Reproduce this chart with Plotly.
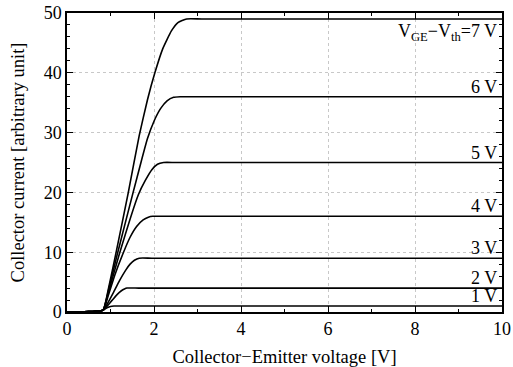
import plotly.graph_objects as go

# Gate overdrive levels (VGE - Vth) and curve points
levels = [7, 6, 5, 4, 3, 2, 1]
labels = ["V<sub>GE</sub>−V<sub>th</sub>=7 V", "6 V", "5 V", "4 V", "3 V", "2 V", "1 V"]

base_x = [0.0, 0.3, 0.5, 0.65, 0.83]
base_y = [0.0, 0.02, 0.06, 0.13, 0.3]

vce_7 = [0.95, 1.13, 1.41, 1.66, 1.85, 2.02, 2.2, 2.4, 2.55, 2.75, 3.1, 10.0]
ic_7 = [3.8, 10.0, 20.0, 29.5, 35.5, 40.0, 44.0, 47.0, 48.4, 49.0, 49.0, 49.0]

vce_6 = [0.95, 1.15, 1.52, 1.7, 1.85, 2.0, 2.15, 2.3, 2.45, 2.6, 2.9, 10.0]
ic_6 = [3.5, 9.5, 20.0, 25.0, 29.0, 31.9, 34.0, 35.3, 35.9, 36.0, 36.0, 36.0]

vce_5 = [0.95, 1.2, 1.64, 1.8, 1.95, 2.08, 2.22, 2.5, 10.0]
ic_5 = [3.2, 9.6, 19.6, 22.0, 23.8, 24.7, 25.0, 25.0, 25.0]

vce_4 = [0.95, 1.1, 1.3, 1.45, 1.6, 1.75, 1.87, 1.97, 2.25, 10.0]
ic_4 = [2.8, 6.2, 10.0, 12.5, 14.3, 15.4, 15.85, 16.0, 16.0, 16.0]

vce_3 = [1.07, 1.22, 1.35, 1.45, 1.55, 1.66, 1.95, 10.0]
ic_3 = [3.3, 5.4, 7.0, 8.0, 8.65, 9.0, 9.0, 9.0]

vce_2 = [1.03, 1.15, 1.25, 1.32, 1.38, 1.65, 10.0]
ic_2 = [1.9, 2.9, 3.55, 3.85, 4.0, 4.0, 4.0]

vce_1 = [0.92, 1.0, 1.08, 1.35, 10.0]
ic_1 = [0.7, 0.93, 1.0, 1.0, 1.0]

curves = [(vce_7, ic_7), (vce_6, ic_6), (vce_5, ic_5), (vce_4, ic_4),
          (vce_3, ic_3), (vce_2, ic_2), (vce_1, ic_1)]

font_family = "Liberation Serif, Times New Roman, serif"

fig = go.Figure()
for lev, (xs, ys) in zip(levels, curves):
    fig.add_trace(go.Scatter(
        x=base_x + xs, y=base_y + ys, mode="lines",
        line=dict(color="black", width=1.6, shape="spline", smoothing=0.45),
        showlegend=False, hoverinfo="skip"))

for lev, lab, (xs, ys) in zip(levels, labels, curves):
    top = lev == 7
    fig.add_annotation(
        x=10, y=ys[-1], xref="x", yref="y", text=lab, showarrow=False,
        xanchor="right", yanchor="top" if top else "bottom",
        xshift=-3, yshift=0 if top else -2,
        font=dict(family=font_family, size=18, color="black"))

axis_common = dict(
    showline=True, linecolor="black", linewidth=1.5, mirror="ticks",
    ticks="inside", ticklen=6, tickwidth=1.2, tickcolor="black",
    showgrid=True, gridcolor="#c8c8c8", griddash="dot", gridwidth=1,
    zeroline=False, automargin=False,
    tickfont=dict(family=font_family, size=18, color="black"),
)

fig.update_xaxes(
    range=[0, 10], dtick=2, tick0=0,
    minor=dict(dtick=1, ticks="inside", ticklen=3, tickcolor="black", showgrid=False),
    title=dict(text="Collector−Emitter voltage [V]",
               font=dict(family=font_family, size=18.5, color="black"), standoff=14),
    **axis_common)
fig.update_yaxes(
    range=[0, 50], dtick=10, tick0=0,
    minor=dict(dtick=2, ticks="inside", ticklen=3, tickcolor="black", showgrid=False),
    title=dict(text="Collector current [arbitrary unit]",
               font=dict(family=font_family, size=18.5, color="black"), standoff=14),
    **axis_common)

fig.update_layout(
    width=513, height=367,
    margin=dict(l=67, r=11, t=13, b=55),
    plot_bgcolor="white", paper_bgcolor="white",
)

fig.write_html("out.html", config={"displayModeBar": False},
               post_script="document.body.style.margin='0';")
